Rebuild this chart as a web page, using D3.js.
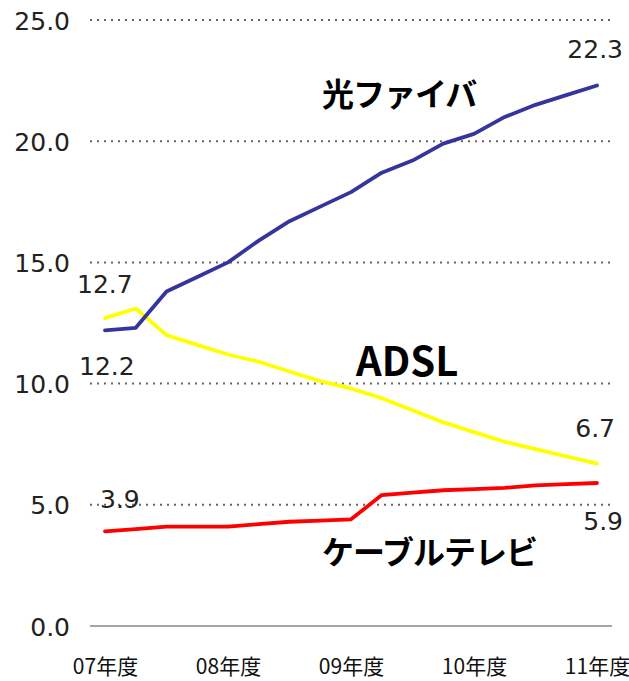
<!DOCTYPE html>
<html>
<head>
<meta charset="utf-8">
<script src="https://cdn.jsdelivr.net/npm/d3@7"></script>
<style>
    body { margin: 0; background: #fff; }
    svg { display: block; }
</style>
</head>
<body>
<div id="chart"></div>
<script>
// quarterly points, 07年度 Q1 .. 11年度 Q1
const quarters = [
    '07-1', '07-2', '07-3', '07-4',
    '08-1', '08-2', '08-3', '08-4',
    '09-1', '09-2', '09-3', '09-4',
    '10-1', '10-2', '10-3', '10-4',
    '11-1'
];
const yearLabels = ['07年度', '08年度', '09年度', '10年度', '11年度'];
const yearTicks = ['07-1', '08-1', '09-1', '10-1', '11-1'];

const fiber = [12.2, 12.3, 13.8, 14.4, 15.0, 15.9, 16.7, 17.3, 17.9, 18.7, 19.2, 19.9, 20.3, 21.0, 21.5, 21.9, 22.3];
const adsl = [12.7, 13.1, 12.0, 11.6, 11.2, 10.9, 10.5, 10.1, 9.8, 9.4, 8.9, 8.4, 8.0, 7.6, 7.3, 7.0, 6.7];
const catv = [3.9, 4.0, 4.1, 4.1, 4.1, 4.2, 4.3, 4.35, 4.4, 5.4, 5.5, 5.6, 5.65, 5.7, 5.8, 5.85, 5.9];

const yTicks = [0, 5, 10, 15, 20, 25];

const width = 629;
const height = 681;

const svg = d3.select('#chart').append('svg')
    .attr('width', width)
    .attr('height', height);

// scales
const x = d3.scalePoint()
    .domain(quarters)
    .range([105, 597]);

const y = d3.scaleLinear()
    .domain([0, 25])
    .range([626, 20]);

const gridLeft = 90;
const gridRight = 612;

// dotted grid lines (not at zero)
svg.selectAll('line.grid')
    .data(yTicks.filter((d) => d > 0))
    .enter()
    .append('line')
    .attr('class', 'grid')
    .attr('x1', gridLeft)
    .attr('x2', gridRight)
    .attr('y1', (d) => y(d))
    .attr('y2', (d) => y(d))
    .attr('stroke', '#666')
    .attr('stroke-width', 2)
    .attr('stroke-dasharray', '2,5');

// zero line
svg.append('line')
    .attr('x1', gridLeft)
    .attr('x2', gridRight)
    .attr('y1', y(0))
    .attr('y2', y(0))
    .attr('stroke', '#888')
    .attr('stroke-width', 1.5);

// y axis labels
const yAxis = d3.axisLeft(y)
    .tickValues(yTicks)
    .tickFormat(d3.format('.1f'))
    .tickSize(0)
    .tickPadding(0);
const yg = svg.append('g')
    .attr('transform', 'translate(70,0)')
    .call(yAxis);
yg.select('.domain').remove();
yg.selectAll('text')
    .attr('dy', '0.36em')
    .style('font-family', '"DejaVu Sans", Verdana, sans-serif')
    .style('font-size', '25px')
    .style('fill', '#222');

// x axis labels
const xAxis = d3.axisBottom(x)
    .tickValues(yearTicks)
    .tickFormat((d, i) => yearLabels[i])
    .tickSize(0)
    .tickPadding(0);
const xg = svg.append('g')
    .attr('transform', 'translate(0,657)')
    .call(xAxis);
xg.select('.domain').remove();
xg.selectAll('text')
    .attr('dy', '0.8em')
    .style('font-family', '"Noto Sans CJK JP", sans-serif')
    .style('font-size', '21px')
    .style('fill', '#111');

// lines
const line = d3.line()
    .x((d, i) => x(quarters[i]))
    .y((d) => y(d));

const series = [
    { values: catv, color: '#ff0000' },
    { values: adsl, color: '#ffff00' },
    { values: fiber, color: '#35359e' }
];

svg.selectAll('path.series')
    .data(series)
    .enter()
    .append('path')
    .attr('class', 'series')
    .attr('d', (d) => line(d.values))
    .attr('fill', 'none')
    .attr('stroke', (d) => d.color)
    .attr('stroke-width', 3.8)
    .attr('stroke-linejoin', 'round')
    .attr('stroke-linecap', 'round');

// value labels at start / end
const first = quarters[0];
const last = quarters[quarters.length - 1];
const valueLabels = [
    { text: adsl[0].toFixed(1), x: x(first) - 28, y: y(adsl[0]) - 25, anchor: 'start' },
    { text: fiber[0].toFixed(1), x: x(first) - 26, y: y(fiber[0]) + 45, anchor: 'start' },
    { text: catv[0].toFixed(1), x: x(first) - 5, y: y(catv[0]) - 23, anchor: 'start' },
    { text: fiber[fiber.length - 1].toFixed(1), x: x(last) + 26, y: y(fiber[fiber.length - 1]) - 27, anchor: 'end' },
    { text: adsl[adsl.length - 1].toFixed(1), x: x(last) + 18, y: y(adsl[adsl.length - 1]) - 27, anchor: 'end' },
    { text: catv[catv.length - 1].toFixed(1), x: x(last) + 26, y: y(catv[catv.length - 1]) + 47, anchor: 'end' }
];

svg.selectAll('text.value')
    .data(valueLabels)
    .enter()
    .append('text')
    .attr('class', 'value')
    .attr('x', (d) => d.x)
    .attr('y', (d) => d.y)
    .attr('text-anchor', (d) => d.anchor)
    .text((d) => d.text)
    .style('font-family', '"DejaVu Sans", Verdana, sans-serif')
    .style('font-size', '25px')
    .style('fill', '#222');

// series names
const names = [
    { text: '光ファイバ', x: 322, y: 106, size: 32, spacing: -1 },
    { text: 'ADSL', x: 356, y: 376, size: 40, spacing: 0 },
    { text: 'ケーブルテレビ', x: 322, y: 564, size: 32, spacing: -1 }
];

svg.selectAll('text.name')
    .data(names)
    .enter()
    .append('text')
    .attr('class', 'name')
    .attr('x', (d) => d.x)
    .attr('y', (d) => d.y)
    .text((d) => d.text)
    .style('font-family', '"Noto Sans CJK JP", sans-serif')
    .style('font-weight', 'bold')
    .style('font-size', (d) => d.size + 'px')
    .style('letter-spacing', (d) => d.spacing + 'px')
    .style('fill', '#000');
</script>
</body>
</html>
